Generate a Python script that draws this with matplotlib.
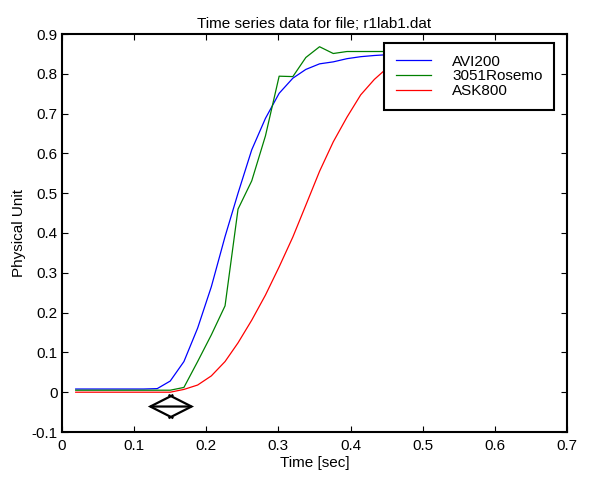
import numpy as np
import matplotlib
matplotlib.use('Agg')
from matplotlib import pyplot as plt

plt.rcParams['font.family'] = ['Liberation Sans', 'DejaVu Sans']

# Time samples (sec)
t = [0.019, 0.038, 0.056, 0.075, 0.094, 0.113, 0.132, 0.150, 0.169, 0.188,
     0.207, 0.226, 0.244, 0.263, 0.282, 0.301, 0.320, 0.338, 0.357, 0.376,
     0.395, 0.414, 0.433, 0.451, 0.470, 0.489, 0.508]

avi200 = [0.008, 0.008, 0.008, 0.008, 0.008, 0.008, 0.009, 0.028, 0.077, 0.161,
          0.265, 0.391, 0.500, 0.609, 0.688, 0.751, 0.789, 0.811, 0.825, 0.830,
          0.838, 0.843, 0.846, 0.848, 0.850, 0.851, 0.852]

rosemount = [0.005, 0.005, 0.005, 0.005, 0.005, 0.005, 0.005, 0.005, 0.012, 0.077,
             0.144, 0.217, 0.460, 0.531, 0.644, 0.794, 0.793, 0.841, 0.868, 0.851,
             0.856, 0.856, 0.856, 0.856, 0.856, 0.856, 0.856]

ask800 = [0.0, 0.0, 0.0, 0.0, 0.0, 0.0, 0.0, 0.0, 0.007, 0.018,
          0.041, 0.077, 0.124, 0.181, 0.244, 0.315, 0.390, 0.470, 0.555, 0.629,
          0.691, 0.747, 0.786, 0.815, 0.835, 0.845, 0.850]

labels = ['AVI200', '3051Rosemo', 'ASK800']

xticks = [0, 0.1, 0.2, 0.3, 0.4, 0.5, 0.6, 0.7]
xticklabels = ['0', '0.1', '0.2', '0.3', '0.4', '0.5', '0.6', '0.7']
yticks = [-0.1, 0, 0.1, 0.2, 0.3, 0.4, 0.5, 0.6, 0.7, 0.8, 0.9]
yticklabels = ['-0.1', '0', '0.1', '0.2', '0.3', '0.4', '0.5', '0.6', '0.7', '0.8', '0.9']

# delay marker (double arrow)
arrow_x = [0.119, 0.183]
arrow_y = -0.036

fig = plt.figure(figsize=(5.9, 4.78), dpi=100)
fig.subplots_adjust(left=62/590, right=567/590, bottom=1-432/478, top=1-34/478)
ax = fig.add_subplot(111)

ax.plot(t, avi200, color='#0000ff', lw=0.9, label=labels[0])
ax.plot(t, rosemount, color='#008000', lw=0.9, label=labels[1])
ax.plot(t, ask800, color='#ff0000', lw=0.9, label=labels[2])

ax.annotate('', xy=(arrow_x[1], arrow_y), xytext=(arrow_x[0], arrow_y),
            arrowprops=dict(arrowstyle='<->,head_length=1.66,head_width=0.84',
                            lw=1.6, color='k', shrinkA=0, shrinkB=0,
                            capstyle='butt', joinstyle='miter'))

ax.set_xlim(0, 0.7)
ax.set_ylim(-0.1, 0.9)
ax.set_xticks(xticks)
ax.set_xticklabels(xticklabels)
ax.set_yticks(yticks)
ax.set_yticklabels(yticklabels)
ax.tick_params(direction='in', top=True, right=True, length=4, width=0.8,
               labelsize=11, pad=5)
ax.tick_params(axis='y', pad=3)
for s in ax.spines.values():
    s.set_linewidth(1.5)

ax.set_title('Time series data for file; r1lab1.dat', fontsize=11, pad=4)
ax.set_xlabel('Time [sec]', fontsize=11, labelpad=2)
ax.set_ylabel('Physical Unit', fontsize=11, labelpad=4)

leg = ax.legend(loc='upper right', bbox_to_anchor=(0.974, 0.977), borderaxespad=0,
                fontsize=11, fancybox=False, framealpha=1, edgecolor='k',
                handlelength=2.3, handletextpad=1.4, labelspacing=0.05,
                borderpad=0.75)
leg.get_frame().set_linewidth(1.5)

plt.savefig('out.png', dpi=100)
